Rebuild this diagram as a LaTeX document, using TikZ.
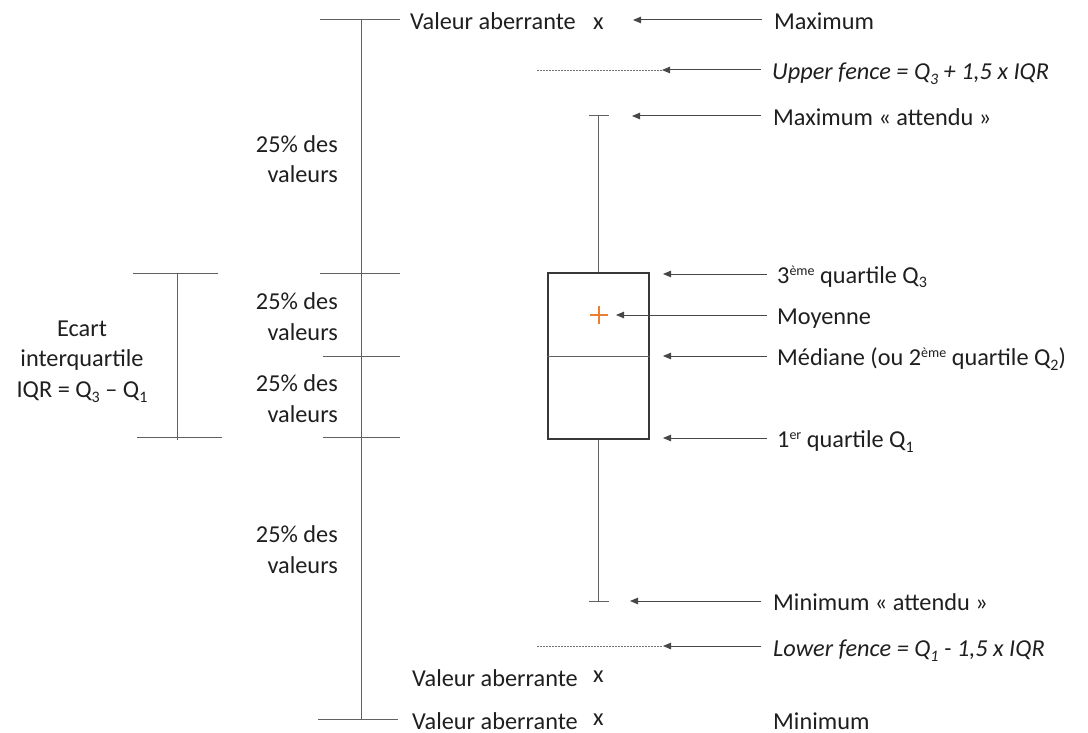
\documentclass[tikz,border=0pt]{standalone}
\usepackage{fontspec}
\setmainfont{Carlito}
\usetikzlibrary{arrows.meta}
\definecolor{meanorange}{HTML}{ED7D31}
\newcommand{\qsub}[1]{\raisebox{-5pt}{\fontsize{16}{16}\selectfont #1}}
\newcommand{\qsup}[1]{\raisebox{8pt}{\fontsize{14}{14}\selectfont #1}}
\begin{document}
\begin{tikzpicture}[x=1pt,y=-1pt,
  ln/.style={draw=black!62, line width=1pt},
  bx/.style={draw=black!78, line width=1.5pt},
  ar/.style={draw=black!72, line width=1pt, -{Triangle[length=8pt,width=6.5pt]}},
  fence/.style={draw=black!55, line width=0.9pt, dash pattern=on 1.6pt off 1.4pt},
  txt/.style={inner sep=0pt, text=black!88, font=\fontsize{24.3}{30.3}\selectfont},
  lbl/.style={txt, anchor=base west},
  pct/.style={txt, anchor=base east, align=right},
]
\useasboundingbox (0,0) rectangle (1088,733);

% ---------- left axis with quartile ticks ----------
\coordinate (axT) at (361,20);
\coordinate (axB) at (361,719);
\draw[ln] (axT) -- (axB);
\draw[ln] (320,20) -- (400,20);
\draw[ln] (320,273) -- (400,273);
\draw[ln] (323,356) -- (400,356);
\draw[ln] (323,437) -- (400,437);
\draw[ln] (318,719) -- (398,719);

% (base anchor = baseline of the last line)
\node[pct] (p1) at (338,183) {25\% des\\valeurs};
\node[pct] (p2) at (338,340) {25\% des\\valeurs};
\node[pct] (p3) at (338,422) {25\% des\\valeurs};
\node[pct] (p4) at (338,573) {25\% des\\valeurs};

% ---------- IQR bracket ----------
\coordinate (iqT) at (177,273);
\coordinate (iqB) at (177,440);
\draw[ln] (iqT) -- (iqB);
\draw[ln] (133,273) -- (218,273);
\draw[ln] (137,437) -- (222,437);
\node[txt, anchor=base, align=center] (ecart) at (82,397)
  {Ecart\\interquartile\\IQR = Q\qsub{3} – Q\qsub{1}};

% ---------- box plot ----------
\node[bx, rectangle, inner sep=0pt, minimum width=101pt, minimum height=166pt] (box) at (598.5,356) {};
\draw[draw=black!62, line width=1pt] (box.west |- 0,356) -- (box.east |- 0,356);
\coordinate (wT) at (598,116);
\coordinate (wB) at (598,601);
\draw[ln] (box.north -| wT) -- (wT);
\draw[ln] (box.south -| wB) -- (wB);
\draw[ln] (589,116) -- (609,116);
\draw[ln] (589,601) -- (609,601);
\node[inner sep=0pt, minimum size=0pt] (mean) at (599,315) {};
\draw[meanorange, line width=1.4pt] (590,315) -- (608,315) (599,306) -- (599,324);

% fences
\coordinate (uf) at (662,70);
\coordinate (lf) at (663,646);
\draw[fence] (537,70) -- (uf);
\draw[fence] (537,646) -- (lf);

% ---------- outlier labels ----------
\node[lbl] (va1) at (410,30) {Valeur aberrante};
\node[lbl] (x1) at (593,30) {x};
\node[lbl] (va2) at (412,686) {Valeur aberrante};
\node[lbl] (x2) at (593,682) {x};
\node[lbl] (va3) at (412,729) {Valeur aberrante};
\node[lbl] (x3) at (593,725) {x};

% ---------- right labels ----------
\node[lbl] (lMax)  at (774,30)  {Maximum};
\node[lbl] (lUf)   at (772,80)  {\itshape Upper fence = Q\qsub{3} + 1,5 x IQR};
\node[lbl] (lMaxA) at (773,126) {Maximum « attendu »};
\node[lbl] (lQ3)   at (777,283) {3\qsup{ème} quartile Q\qsub{3}};
\node[lbl] (lMoy)  at (777,324) {Moyenne};
\node[lbl] (lMed)  at (777,365) {Médiane (ou 2\qsup{ème} quartile Q\qsub{2})};
\node[lbl] (lQ1)   at (777,447) {1\qsup{er} quartile Q\qsub{1}};
\node[lbl] (lMinA) at (773,610) {Minimum « attendu »};
\node[lbl] (lLf)   at (773,656) {\itshape Lower fence = Q\qsub{1} - 1,5 x IQR};
\node[lbl] (lMin)  at (773,729) {Minimum};

% ---------- arrows ----------
\coordinate (aMax) at (633,20);
\coordinate (aMaxA) at (632,116);
\coordinate (aQ3) at (663,274);
\coordinate (aMoy) at (616,315);
\coordinate (aMed) at (663,356);
\coordinate (aQ1) at (663,438);
\coordinate (aMinA) at (630,601);

\draw[ar] (lMax.west |- aMax) ++(-12,0) -- (aMax);
\draw[ar] (lUf.west |- uf) ++(-11,0) -- (uf);
\draw[ar] (lMaxA.west |- aMaxA) ++(-12,0) -- (aMaxA);
\draw[ar] (lQ3.west |- aQ3) ++(-10,0) -- (aQ3);
\draw[ar] (lMoy.west |- aMoy) ++(-10,0) -- (aMoy);
\draw[ar] (lMed.west |- aMed) ++(-10,0) -- (aMed);
\draw[ar] (lQ1.west |- aQ1) ++(-10,0) -- (aQ1);
\draw[ar] (lMinA.west |- aMinA) ++(-12,0) -- (aMinA);
\draw[ar] (lLf.west |- lf) ++(-12,0) -- (lf);
\end{tikzpicture}
\end{document}
